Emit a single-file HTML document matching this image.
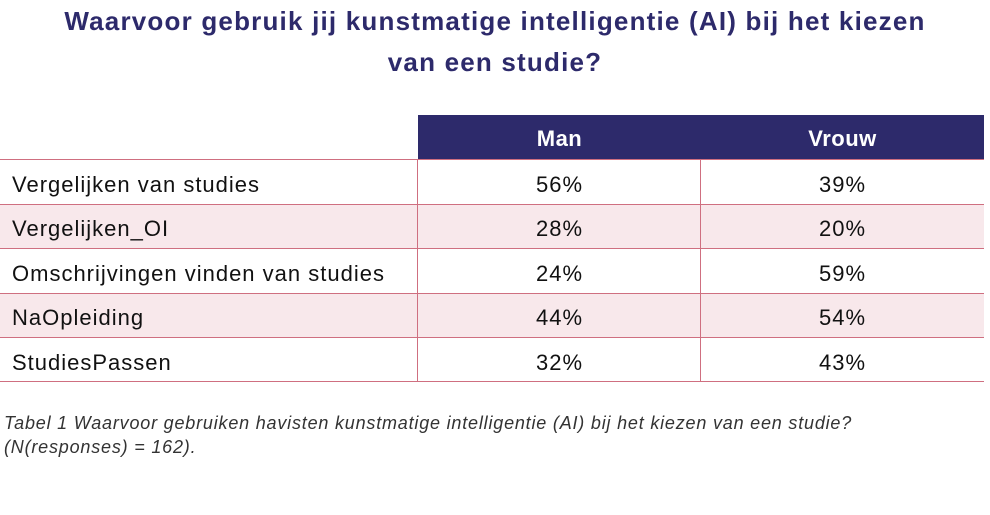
<!DOCTYPE html>
<html><head><meta charset="utf-8"><style>
body{margin:0;width:990px;height:515px;background:#fff;position:relative;font-family:"Liberation Sans",sans-serif;overflow:hidden}
.t{position:absolute;left:0;width:990px;text-align:center;color:#2d2a6b;font-weight:bold;font-size:26px;letter-spacing:1.2px}
.hd{position:absolute;left:418px;top:115px;width:566px;height:44px;background:#2d2a6b}
.hd span{position:absolute;top:0;line-height:48px;color:#fff;font-weight:bold;font-size:22px;width:283px;text-align:center;letter-spacing:0.5px}
.row{position:absolute;left:0;width:984px;height:44px}
.row.p{background:#f8e8eb}
.row span{position:absolute;top:0;line-height:50px;font-size:22px;color:#111;letter-spacing:1px}
.l{left:12px}
.a{left:418px;width:283px;text-align:center}
.b{left:701px;width:283px;text-align:center}
.h{position:absolute;left:0;width:984px;height:1px;background:#cf6f80}
.v{position:absolute;top:159px;height:222px;width:1px;background:#cf6f80}
.c{position:absolute;left:4px;font-style:italic;font-size:18px;color:#333;letter-spacing:0.8px}
</style></head><body>
<div class="t" style="top:6px">Waarvoor gebruik jij kunstmatige intelligentie (AI) bij het kiezen</div>
<div class="t" style="top:47px">van een studie?</div>
<div class="hd"><span style="left:0">Man</span><span style="left:283px">Vrouw</span></div>
<div class="row" style="top:160px"><span class="l">Vergelijken van studies</span><span class="a">56%</span><span class="b">39%</span></div>
<div class="row p" style="top:204px"><span class="l">Vergelijken_OI</span><span class="a">28%</span><span class="b">20%</span></div>
<div class="row" style="top:249px"><span class="l">Omschrijvingen vinden van studies</span><span class="a">24%</span><span class="b">59%</span></div>
<div class="row p" style="top:293px"><span class="l">NaOpleiding</span><span class="a">44%</span><span class="b">54%</span></div>
<div class="row" style="top:338px"><span class="l">StudiesPassen</span><span class="a">32%</span><span class="b">43%</span></div>
<div class="h" style="top:159px"></div>
<div class="h" style="top:204px"></div>
<div class="h" style="top:248px"></div>
<div class="h" style="top:293px"></div>
<div class="h" style="top:337px"></div>
<div class="h" style="top:381px"></div>
<div class="v" style="left:417px"></div>
<div class="v" style="left:700px"></div>
<div class="c" style="top:413px">Tabel 1 Waarvoor gebruiken havisten kunstmatige intelligentie (AI) bij het kiezen van een studie?</div>
<div class="c" style="top:437px">(N(responses) = 162).</div>
</body></html>
